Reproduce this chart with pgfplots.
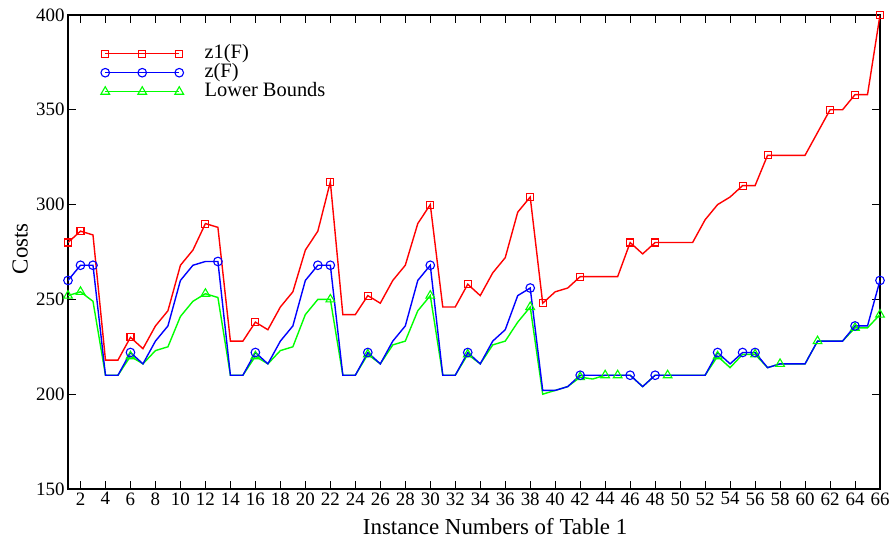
\documentclass[border=0pt]{standalone}
\usepackage{pgfplots}
\usepackage{pgfplotstable}
\pgfplotsset{compat=1.18}
\usepackage{fontspec}
\setmainfont{Liberation Serif}

\pgfplotstableread{
x r b g
1 280 260 252
2 286 268 254
3 284 268 249
4 218 210 210
5 218 210 210
6 230 222 220
7 224 216 216
8 236 228 223
9 244 236 225
10 268 260 241
11 276 268 249
12 290 270 253
13 288 270 251
14 228 210 210
15 228 210 210
16 238 222 220
17 234 216 216
18 246 228 223
19 254 236 225
20 276 260 242
21 286 268 250
22 312 268 250
23 242 210 210
24 242 210 210
25 252 222 221
26 248 216 216
27 260 228 226
28 268 236 228
29 290 260 244
30 300 268 252
31 246 210 210
32 246 210 210
33 258 222 221
34 252 216 216
35 264 228 226
36 272 234 228
37 296 252 238
38 304 256 246
39 248 202 200
40 254 202 202
41 256 204 204
42 262 210 209
43 262 210 208
44 262 210 210
45 262 210 210
46 280 210 210
47 274 204 204
48 280 210 210
49 280 210 210
50 280 210 210
51 280 210 210
52 292 210 210
53 300 222 220
54 304 216 214
55 310 222 221
56 310 222 221
57 326 214 214
58 326 216 216
59 326 216 216
60 326 216 216
61 338 228 228
62 350 228 228
63 350 228 228
64 358 236 235
65 358 236 235
66 400 260 242
}\data

\begin{document}
\begin{tikzpicture}
\begin{axis}[
  scale only axis, width=812bp, height=474bp,
  xmin=1, xmax=66, ymin=150, ymax=400,
  xtick={2,4,...,66}, ytick={150,200,...,400},
  tick align=inside, major tick length=8bp,
  /pgf/number format/assume math mode=true,
  tick label style={font=\fontsize{19}{22}\selectfont},
  axis line style={line width=1.3bp},
  every tick/.style={black, line width=1bp},
  xlabel={Instance Numbers of Table 1}, ylabel={Costs},
  every axis x label/.style={at={(axis description cs:0.526,-0.080)}, anchor=center, font=\fontsize{23}{26}\selectfont},
  every axis y label/.style={at={(axis description cs:-0.059,0.507)}, anchor=center, rotate=90, font=\fontsize{23}{26}\selectfont},
  legend image code/.code={\draw[mark repeat=1,mark phase=1,#1,line width=1.4bp] plot coordinates {(0bp,0bp) (37bp,0bp) (74bp,0bp)};},
  legend style={at={(axis description cs:0.0366,0.943)}, anchor=north west, draw=none, fill=none,
    font=\fontsize{20.5}{22}\selectfont, column sep=20bp,
    nodes={inner sep=1bp, text height=13bp, text depth=4bp}},
  legend cell align=left,
]
\addlegendimage{red, mark=square, mark size=3.5bp, mark options={solid, line width=1.1bp}}
\addlegendentry{z1(F)}
\addlegendimage{blue, mark=o, mark size=4.3bp, mark options={solid, line width=1.1bp}}
\addlegendentry{z(F)}
\addlegendimage{green, mark=triangle, mark size=5bp, mark options={solid, line width=1.1bp}}
\addlegendentry{Lower Bounds}

\addplot[forget plot, green, line width=1.4bp, mark=triangle, mark size=5bp, mark options={solid, line width=1.1bp},
  mark indices={1,2,6,12,16,22,25,30,33,38,42,44,45,49,53,56,58,61,64,66}] table[x=x, y=g] {\data};
\addplot[forget plot, blue, line width=1.4bp, mark=o, mark size=4.3bp, mark options={solid, line width=1.1bp},
  mark indices={1,2,3,6,13,16,21,22,25,30,33,38,42,46,48,53,55,56,64,66}] table[x=x, y=b] {\data};
\addplot[forget plot, red, line width=1.4bp, mark=square, mark size=3.5bp, mark options={solid, line width=1.1bp},
  mark indices={1,2,6,12,16,22,25,30,33,38,39,42,46,48,55,57,62,64,66}] table[x=x, y=r] {\data};
\end{axis}
\pgfresetboundingbox
\path (-68bp,-56bp) rectangle (827bp,489bp);
\end{tikzpicture}
\end{document}
